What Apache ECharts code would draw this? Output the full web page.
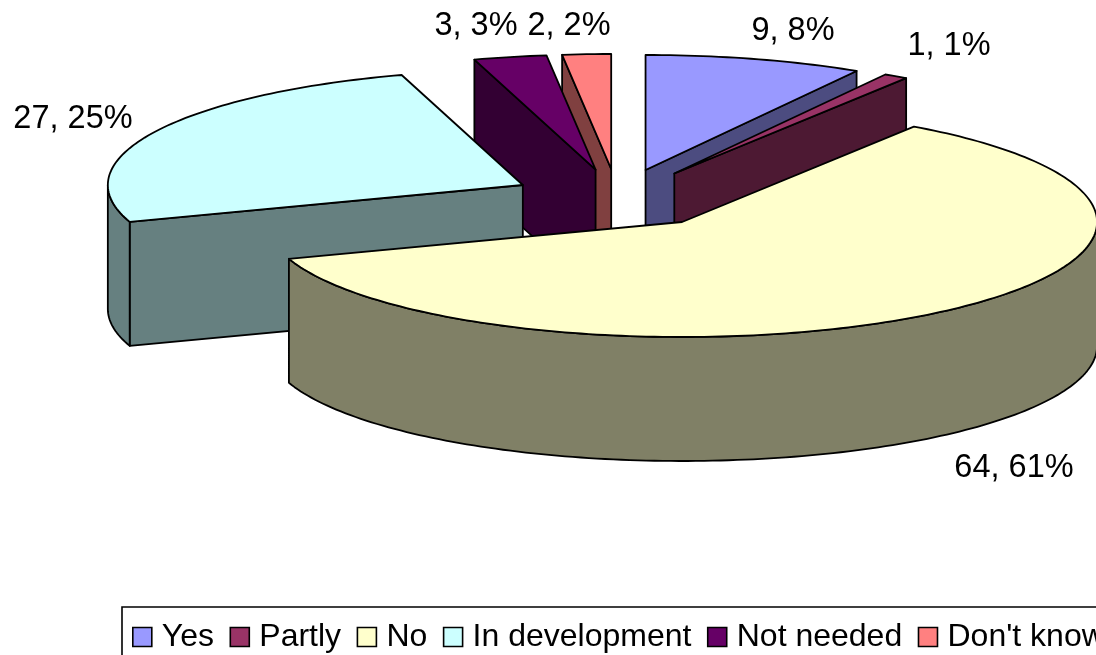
<!DOCTYPE html>
<html>
<head>
<meta charset="utf-8">
<script src="https://cdn.jsdelivr.net/npm/echarts@6/dist/echarts.min.js"></script>
<style>html,body{margin:0;padding:0;background:#fff;overflow:hidden}#c{width:1096px;height:655px}</style>
</head>
<body>
<div id="c"></div>
<script>
var categories = ["Yes", "Partly", "No", "In development", "Not needed", "Don't know"];
var values = [9, 1, 64, 27, 3, 2];
var percents = [8, 1, 61, 25, 3, 2];
var topColors = ['#9999FF', '#993366', '#FFFFCC', '#CCFFFF', '#660066', '#FF8080'];
var sideColors = ['#4C4C80', '#4D1933', '#808066', '#668080', '#330033', '#804040'];
var drawOrder = [5, 4, 0, 1, 3, 2];
var labelAnchors = [[793, 31], [949, 46], [1014, 468], [73, 119], [476, 26], [569, 26]];

var CX = 617.5, CY = 198.5, RX = 415, RY = 115, DEPTH = 124, EXPLODE_X = 0.2564, EXPLODE_Y = 0.257;
var FONT = 'Liberation Sans, Arial, sans-serif';
var total = values.reduce(function (a, b) { return a + b; }, 0);

function sliceAngles(i) {
  var before = 0;
  for (var k = 0; k < i; k++) before += values[k];
  return [before / total * 2 * Math.PI, (before + values[i]) / total * 2 * Math.PI];
}
function arcPoints(c, a, b) {
  var n = Math.max(2, Math.ceil((b - a) / 0.02)), pts = [];
  for (var k = 0; k <= n; k++) {
    var t = a + (b - a) * k / n;
    pts.push([c[0] + RX * Math.sin(t), c[1] - RY * Math.cos(t)]);
  }
  return pts;
}
function down(p) { return [p[0], p[1] + DEPTH]; }
function poly(points, fill) {
  return {
    type: 'polygon', silent: true,
    shape: { points: points },
    style: { fill: fill, stroke: '#000', lineWidth: 1.8, lineJoin: 'round' }
  };
}
function renderSlice(i) {
  return function () {
    var ang = sliceAngles(i), a = ang[0], b = ang[1], mid = (a + b) / 2;
    var c = [CX + EXPLODE_X * RX * Math.sin(mid), CY - EXPLODE_Y * RY * Math.cos(mid)];
    var rim = arcPoints(c, a, b), kids = [];
    var first = rim[0], last = rim[rim.length - 1];
    if (Math.sin(a) < -1e-6) kids.push(poly([c, first, down(first), down(c)], sideColors[i]));
    if (Math.sin(b) > 1e-6) kids.push(poly([c, last, down(last), down(c)], sideColors[i]));
    var wa = Math.max(a, Math.PI / 2), wb = Math.min(b, 3 * Math.PI / 2);
    if (wb > wa) {
      var edge = arcPoints(c, wa, wb);
      kids.push(poly(edge.concat(edge.slice().reverse().map(down)), sideColors[i]));
    }
    kids.push(poly([c].concat(rim), topColors[i]));
    kids.push({
      type: 'text', silent: true,
      style: {
        x: labelAnchors[i][0], y: labelAnchors[i][1],
        text: values[i] + ', ' + percents[i] + '%',
        fill: '#000', font: '32.5px ' + FONT, align: 'center', verticalAlign: 'middle'
      }
    });
    return { type: 'group', children: kids };
  };
}

var chart = echarts.init(document.getElementById('c'), null, { renderer: 'canvas' });
chart.setOption({
  animation: false,
  backgroundColor: '#fff',
  legend: {
    data: categories,
    left: 122, top: 607, width: 1600,
    orient: 'horizontal',
    padding: [14, 30, 20, 10],
    borderColor: '#000', borderWidth: 1.6, backgroundColor: '#fff',
    itemWidth: 19, itemHeight: 19, itemGap: 15.5,
    icon: 'rect',
    itemStyle: { borderColor: '#000', borderWidth: 1.6 },
    textStyle: { fontFamily: FONT, fontSize: 32, color: '#000', padding: [2, 0, 0, 5] },
    selectedMode: false
  },
  series: drawOrder.map(function (i) {
    return {
      type: 'custom',
      name: categories[i],
      coordinateSystem: 'none',
      itemStyle: { color: topColors[i] },
      clip: false,
      silent: true,
      data: [{ name: categories[i], value: values[i] }],
      renderItem: renderSlice(i)
    };
  })
});
</script>
</body>
</html>
